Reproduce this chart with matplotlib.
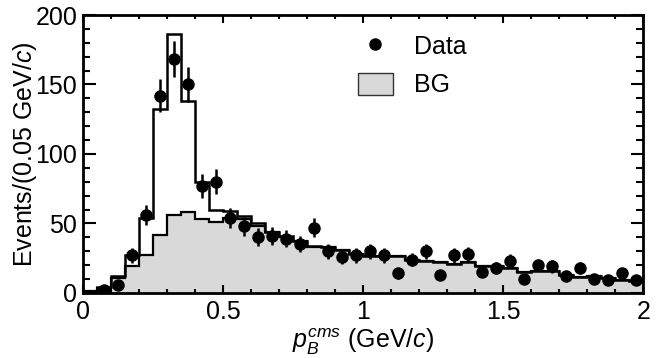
import matplotlib
matplotlib.use("Agg")
import matplotlib.pyplot as plt
import numpy as np
from matplotlib.lines import Line2D
from matplotlib.patches import Patch
from matplotlib.ticker import MultipleLocator

plt.rcParams['font.family'] = 'Liberation Sans'
plt.rcParams['mathtext.fontset'] = 'custom'
plt.rcParams['mathtext.rm'] = 'Liberation Sans'
plt.rcParams['mathtext.it'] = 'Liberation Sans:italic'

# Histogram bin edges, 0.05 GeV/c wide
edges = np.linspace(0, 2, 41)

# Total fit (signal + BG) per bin
total = [1, 4, 12, 27, 54, 132, 186, 138, 80, 60,
         59, 55, 50, 44, 41, 37.6, 33.8, 33.3, 31, 28,
         26.6, 26.6, 26.6, 23.7, 23, 22.5, 21, 22.5, 19, 19,
         17.7, 15.3, 15.6, 15.6, 13, 11.7, 12, 11, 9.4, 8.2]

# Background per bin
bg = [1, 3.6, 11, 19, 27.5, 42, 56, 58, 53, 51,
      54, 53, 48, 44, 40.5, 37, 33.3, 33, 30.8, 27.8,
      26.5, 26.5, 26.5, 23.6, 23, 22.4, 20.9, 22.4, 19, 19,
      17.7, 15.3, 15.6, 15.6, 13, 11.7, 12, 11, 9.4, 8.2]

# Data points at bin centres from 0.075 GeV/c
data_x = np.arange(0.075, 2.0, 0.05)
data_y = [2, 6, 27, 56, 142, 168, 150, 77, 80, 54,
          48, 40, 41, 39, 35, 47, 30, 26, 27, 30,
          27, 14, 24, 30, 13, 27, 28, 15, 18, 23,
          10, 20, 19, 12, 18, 10, 9, 14, 9]

fs = 18

fig = plt.figure(figsize=(6.68, 3.58), dpi=100)
ax = fig.add_axes([0.124, 0.182, 0.839, 0.776])

ax.stairs(bg, edges, fill=True, color='#d9d9d9', baseline=0)
ax.stairs(bg, edges, color='black', lw=1.6, baseline=None)
ax.stairs(total, edges, color='black', lw=1.8, baseline=None)
ax.errorbar(data_x, data_y, yerr=np.sqrt(data_y), fmt='o', color='black',
            ms=8, elinewidth=1.8, capsize=0)

ax.set_xlim(0, 2)
ax.set_ylim(0, 200)
ax.xaxis.set_major_locator(MultipleLocator(0.5))
ax.xaxis.set_minor_locator(MultipleLocator(0.1))
ax.yaxis.set_major_locator(MultipleLocator(50))
ax.yaxis.set_minor_locator(MultipleLocator(10))
ax.set_xticks([0, 0.5, 1, 1.5, 2], ['0', '0.5', '1', '1.5', '2'])

ax.tick_params(axis='both', which='both', direction='in', top=True, right=True,
               width=1.5, labelsize=fs)
ax.tick_params(axis='x', which='both', pad=5)
ax.tick_params(axis='y', which='both', pad=4)
ax.tick_params(axis='x', which='major', length=6)
ax.tick_params(axis='x', which='minor', length=3)
ax.tick_params(axis='y', which='major', length=9)
ax.tick_params(axis='y', which='minor', length=5)
for s in ax.spines.values():
    s.set_linewidth(2)

ax.set_xlabel(r'$p_B^{cms}$ (GeV/$c$)', fontsize=fs, labelpad=2)
ax.set_ylabel(r'Events/(0.05 GeV/$c$)', fontsize=fs, labelpad=-2.5)

handles = [Line2D([], [], marker='o', color='black', ls='none', ms=8),
           Patch(facecolor='#d9d9d9', edgecolor='#333333', lw=1)]
ax.legend(handles, ['Data', 'BG'], loc='upper left', bbox_to_anchor=(0.468, 0.976),
          frameon=False, fontsize=fs, borderpad=0, handlelength=1.4, handleheight=1.0,
          handletextpad=0.85, labelspacing=0.55)

fig.savefig('out.png', dpi=100)
